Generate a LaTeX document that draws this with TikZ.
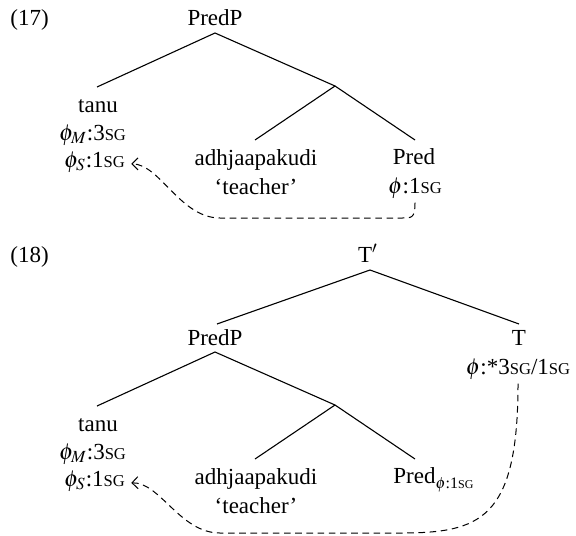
\documentclass[tikz,border=0pt]{standalone}
\usepackage{mathptmx}
\usepackage{fontspec}
\setmainfont{Liberation Serif}
\usetikzlibrary{arrows.meta}
\newcommand\smc[1]{{\fontsize{8.3}{10}\selectfont #1}}
\newcommand\smcsub[1]{{\fontsize{6}{7}\selectfont #1}}
\begin{document}
\begin{tikzpicture}[x=0.5pt,y=-0.5pt,
  txt/.style={inner sep=0pt,anchor=base,font=\fontsize{11.5}{14}\selectfont},
  branch/.style={line width=0.55pt},
  agree/.style={line width=0.5pt,dash pattern=on 3.3pt off 2.3pt,
    -{Straight Barb[length=3pt,width=6pt]}}]
\useasboundingbox (0,0) rectangle (576,535);
% ---------- (17) ----------
\node[txt,anchor=base west] (ex17) at (10,26) {(17)};
\node[txt] (predp17) at (215,26) {PredP};
\coordinate (r17) at (215,33);
\coordinate (l17) at (97,87);
\coordinate (m17) at (335,86);
\coordinate (ad17) at (255,140);
\coordinate (pr17) at (415,140);
\draw[branch] (l17) -- (r17) -- (m17);
\draw[branch] (ad17) -- (m17) -- (pr17);
\node[txt] (tanu17) at (98,112) {tanu};
\node[txt] (phim17) at (92.5,140) {$\phi_M$:3\smc{SG}};
\node[txt] (phis17) at (94.5,167) {$\phi_S$:1\smc{SG}};
\node[txt] (adh17) at (256,165) {adhjaapakudi};
\node[txt] (tea17) at (256,194) {`teacher'};
\node[txt] (pred17) at (414,164) {Pred};
\node[txt] (phi17) at (415,193) {$\phi$:1\smc{SG}};
\draw[agree] ([yshift=-2pt]phi17.south) .. controls +(0,16) and +(12,0) .. (400,218)
  -- (220,218) .. controls (180,218) and (160,164) .. ([xshift=3pt,yshift=-1pt]phis17.east);
% ---------- (18) ----------
\node[txt,anchor=base west] (ex18) at (10,262) {(18)};
\node[txt] (tbar) at (368,262) {T$'$};
\coordinate (r18t) at (370,270);
\coordinate (lp18) at (217,324);
\coordinate (rt18) at (519,324);
\draw[branch] (lp18) -- (r18t) -- (rt18);
\node[txt] (predp18) at (215,345) {PredP};
\node[txt] (t18) at (519,345) {T};
\node[txt] (phit18) at (518,374) {$\phi$:*3\smc{SG}/1\smc{SG}};
\coordinate (r18) at (215,352);
\coordinate (l18) at (97,406);
\coordinate (m18) at (335,405);
\coordinate (ad18) at (255,459);
\coordinate (pr18) at (415,459);
\draw[branch] (l18) -- (r18) -- (m18);
\draw[branch] (ad18) -- (m18) -- (pr18);
\node[txt] (tanu18) at (98,431) {tanu};
\node[txt] (phim18) at (92.5,459) {$\phi_M$:3\smc{SG}};
\node[txt] (phis18) at (94.5,486) {$\phi_S$:1\smc{SG}};
\node[txt] (adh18) at (256,484) {adhjaapakudi};
\node[txt] (tea18) at (256,513) {`teacher'};
\node[txt,anchor=base west] (pred18) at (393,483) {Pred\raisebox{-2.5pt}{\fontsize{8}{9}\selectfont$\phi$:1\smcsub{SG}}};
\draw[agree] ([yshift=-2pt]phit18.south) .. controls (518,520) and (480,533) .. (400,533)
  -- (220,533) .. controls (180,533) and (160,482) .. ([xshift=3pt,yshift=-1pt]phis18.east);
\end{tikzpicture}
\end{document}
